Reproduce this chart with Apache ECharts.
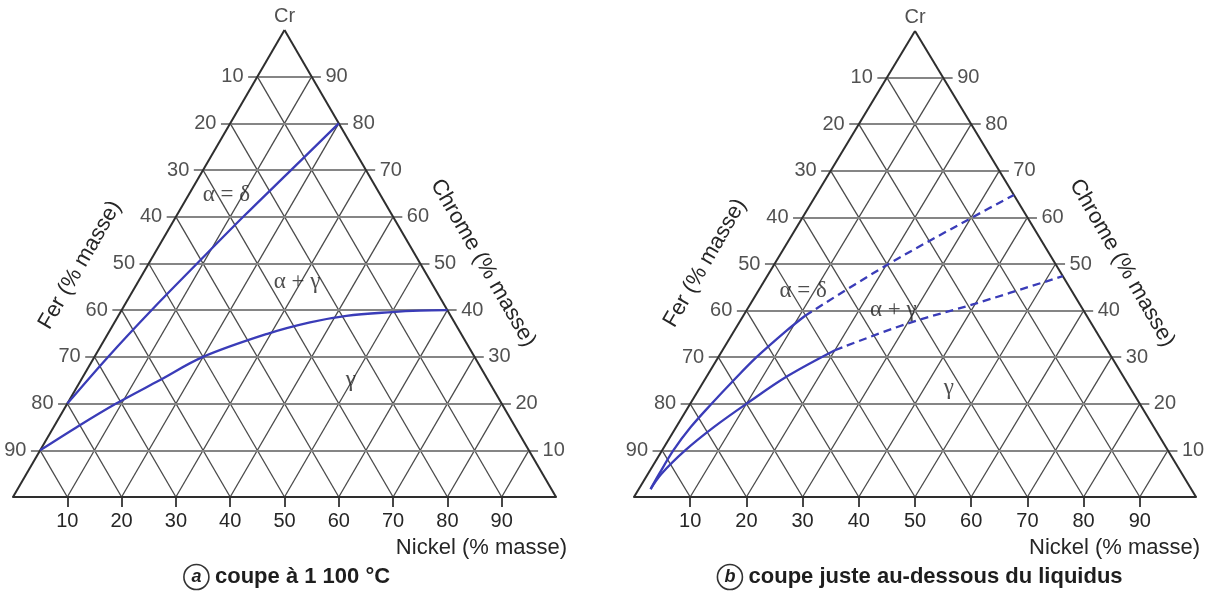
<!DOCTYPE html>
<html><head><meta charset="utf-8">
<script src="https://cdn.jsdelivr.net/npm/echarts@6/dist/echarts.min.js"></script>
<style>html,body{margin:0;padding:0;background:#fff}#c{width:1214px;height:599px}</style>
</head><body><div id="c"></div>
<script>
// ---- axis levels and tick labels ----
const crLevels = [10, 20, 30, 40, 50, 60, 70, 80, 90];
const niLevels = [10, 20, 30, 40, 50, 60, 70, 80, 90];
const feLabels = ['90', '80', '70', '60', '50', '40', '30', '20', '10']; // Fe % at left edge for each Cr level
const crLabels = ['10', '20', '30', '40', '50', '60', '70', '80', '90'];
const niLabels = ['10', '20', '30', '40', '50', '60', '70', '80', '90'];

// ---- (a) coupe à 1 100 °C : boundaries as [Ni %, Cr %] ----
const aAlphaDeltaNi = [0, 2.5, 5.5, 8.9, 12.4, 16.2, 20];
const aAlphaDeltaCr = [20, 30, 40, 50, 60, 70, 80];
const aGammaNi = [0, 4.3, 9, 14.5, 20, 29.5, 36, 42, 50, 55, 60];
const aGammaCr = [10, 15, 20, 25, 30, 35, 37.4, 38.8, 39.6, 39.9, 40];

// ---- (b) coupe juste au-dessous du liquidus ----
const bAlphaDeltaSolidNi = [2.1, 2.0, 2.0, 2.6, 3.8, 5.2, 6.8, 9.3, 11.0];
const bAlphaDeltaSolidCr = [1.7, 5, 10, 15, 20, 25, 30, 35.7, 38.9];
const bAlphaDeltaDashNi = [11.0, 20.3, 30.2, 35.2];
const bAlphaDeltaDashCr = [38.9, 50, 60, 64.8];
const bGammaSolidNi = [2.1, 2.4, 4.1, 6.7, 10, 14.4, 20.0];
const bGammaSolidCr = [1.7, 5, 10, 15, 20, 26, 31.5];
const bGammaDashNi = [20.0, 30, 40, 52.6];
const bGammaDashCr = [31.5, 37.2, 41.5, 47.4];

// ---- phase-field names and where they sit (Ni %, Cr %) ----
const regionNames = ['α = δ', 'α + γ', 'γ'];
const aRegionNi = [7.0, 29.3, 49.7];
const aRegionCr = [64.6, 46.0, 25.0];
const bRegionNi = [8.0, 26.1, 44.3];
const bRegionCr = [44.2, 40.1, 23.4];

// ternary (Ni, Cr) -> cartesian (x, y) in 0..100 units
function tern(ni, cr) { return [ni + cr / 2, cr]; }

const SANS = "'Liberation Sans', Arial, Helvetica, sans-serif";
const SERIF = "'Liberation Serif', 'DejaVu Serif', serif";
const TXT = '#262626';
const BLUE = '#3a3cb8';
const EXT = 1.7;

function panelSeries(g, curves, regNi, regCr) {
  const ax = { xAxisIndex: g, yAxisIndex: g };
  const slanted = [];
  niLevels.forEach(k => {
    slanted.push({ coords: [tern(k, 0), tern(k, 100 - k)] });
    slanted.push({ coords: [tern(100 - k, 0), tern(0, 100 - k)] });
  });
  const horiz = crLevels.map(c => {
    const a = tern(0, c), b = tern(100 - c, c);
    return { coords: [[a[0] - EXT, c], [b[0] + EXT, c]] };
  });
  const edges = [
    { coords: [tern(0, 0), tern(100, 0)] },
    { coords: [tern(100, 0), tern(0, 100)] },
    { coords: [tern(0, 100), tern(0, 0)] }
  ];
  const s = [
    Object.assign({ type: 'lines', coordinateSystem: 'cartesian2d', silent: true, data: slanted,
      lineStyle: { color: '#4a4a4a', width: 1.3, opacity: 1 }, z: 1 }, ax),
    Object.assign({ type: 'lines', coordinateSystem: 'cartesian2d', silent: true, data: horiz,
      lineStyle: { color: '#858585', width: 2.2, opacity: 1 }, z: 2 }, ax),
    Object.assign({ type: 'lines', coordinateSystem: 'cartesian2d', silent: true, data: edges,
      lineStyle: { color: '#2e2e2e', width: 2, opacity: 1 }, z: 3 }, ax),
  ];
  curves.forEach(cv => {
    s.push(Object.assign({ type: 'line', silent: true, showSymbol: false, symbol: 'none', smooth: 0.35,
      data: cv.ni.map((n, i) => tern(n, cv.cr[i])),
      lineStyle: { color: BLUE, width: 2.3, type: cv.dash ? [8, 5] : 'solid' }, z: 5 }, ax));
  });
  const lbl = (data, pos, extra) => Object.assign({
    type: 'scatter', silent: true, symbolSize: 1, itemStyle: { color: 'rgba(0,0,0,0)' },
    data: data,
    label: Object.assign({ show: true, position: pos, distance: 4, formatter: p => p.value[2],
      color: TXT, fontSize: 20, fontFamily: SANS }, extra || {}), z: 6
  }, ax);
  s.push(lbl(crLevels.map((c, i) => [tern(0, c)[0] - EXT, c, feLabels[i]]), 'left'));
  s.push(lbl(crLevels.map((c, i) => [tern(100 - c, c)[0] + EXT, c, crLabels[i]]), 'right'));
  s.push(lbl([tern(0, 100).concat(['Cr'])], 'top', { distance: 3 }));
  s.push(lbl(regionNames.map((n, i) => tern(regNi[i], regCr[i]).concat([n])), 'inside',
    { fontFamily: SERIF, fontSize: 23, color: '#222' }));
  return s;
}

const series = [].concat(
  panelSeries(0, [
    { ni: aAlphaDeltaNi, cr: aAlphaDeltaCr },
    { ni: aGammaNi, cr: aGammaCr }
  ], aRegionNi, aRegionCr),
  panelSeries(1, [
    { ni: bAlphaDeltaSolidNi, cr: bAlphaDeltaSolidCr },
    { ni: bAlphaDeltaDashNi, cr: bAlphaDeltaDashCr, dash: true },
    { ni: bGammaSolidNi, cr: bGammaSolidCr },
    { ni: bGammaDashNi, cr: bGammaDashCr, dash: true }
  ], bRegionNi, bRegionCr)
);

function xAx(g) {
  return {
    type: 'value', gridIndex: g, min: 0, max: 100,
    axisLine: { show: true, lineStyle: { color: '#2e2e2e', width: 2 } },
    axisTick: { show: true, length: 10, inside: false, customValues: niLevels, lineStyle: { color: '#333', width: 1.8 } },
    axisLabel: { show: true, customValues: niLevels, formatter: v => niLabels[niLevels.indexOf(v)],
      margin: 14, color: TXT, fontSize: 20, fontFamily: SANS },
    splitLine: { show: false }
  };
}
function yAx(g) {
  return { type: 'value', gridIndex: g, min: 0, max: 100, show: false, splitLine: { show: false } };
}

function rotText(x, y, text, rot, align) {
  return { type: 'text', x: x, y: y, rotation: rot || 0, silent: true,
    style: { text: text, font: '22px ' + SANS, fill: TXT, align: align || 'center', verticalAlign: 'middle' } };
}
function caption(x, letter, text) {
  return { type: 'text', x: x, y: 577, silent: true,
    style: { text: '{c|' + letter + '} ' + text, font: 'bold 22px ' + SANS, fill: '#1e1e1e',
      align: 'center', verticalAlign: 'middle',
      rich: { c: { fontStyle: 'italic', fontWeight: 'bold', fontSize: 18, fontFamily: SANS, fill: '#1e1e1e',
        borderColor: '#333', borderWidth: 1.6, borderRadius: 13, width: 25, height: 25, lineHeight: 25,
        align: 'center', verticalAlign: 'middle' } } } };
}

const option = {
  backgroundColor: '#fff',
  animation: false,
  grid: [
    { left: 13, top: 30, width: 543, height: 467, outerBoundsMode: 'none', containLabel: false },
    { left: 634, top: 31, width: 562, height: 466, outerBoundsMode: 'none', containLabel: false }
  ],
  xAxis: [xAx(0), xAx(1)],
  yAxis: [yAx(0), yAx(1)],
  series: series,
  graphic: [
    rotText(80, 265, 'Fer (% masse)', Math.PI / 3),
    rotText(483, 263, 'Chrome (% masse)', -Math.PI / 3),
    rotText(567, 548, 'Nickel (% masse)', 0, 'right'),
    rotText(705, 263, 'Fer (% masse)', Math.PI / 3),
    rotText(1122, 263, 'Chrome (% masse)', -Math.PI / 3),
    rotText(1029, 548, 'Nickel (% masse)', 0, 'left'),
    caption(287, 'a', 'coupe à 1 100 °C'),
    caption(920, 'b', 'coupe juste au-dessous du liquidus')
  ]
};
const chart = echarts.init(document.getElementById('c'), null, { renderer: 'canvas' });
chart.setOption(option);
</script></body></html>
